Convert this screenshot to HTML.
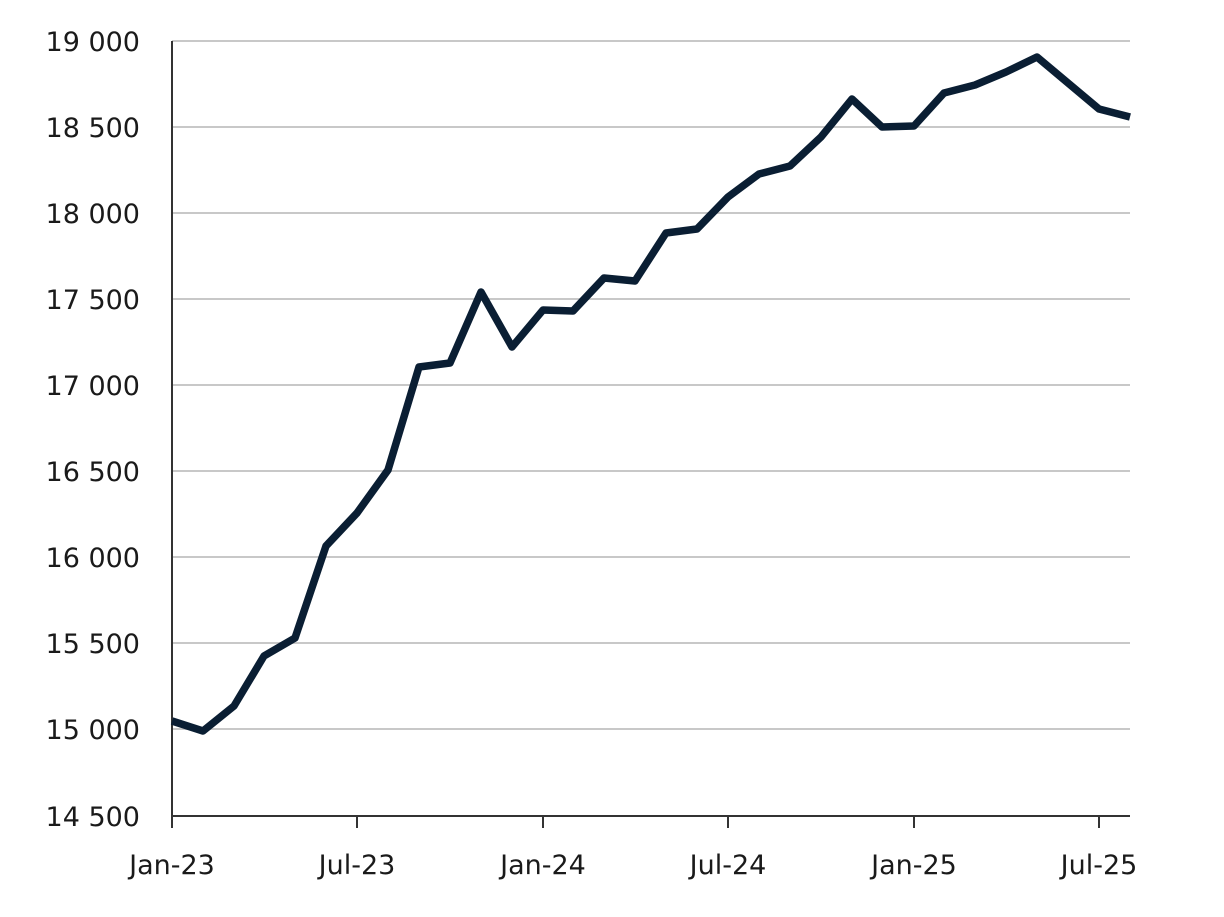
<!DOCTYPE html>
<html><head><meta charset="utf-8"><style>
html,body{margin:0;padding:0;background:#fff;}
text{font-family:"DejaVu Sans","Liberation Sans",sans-serif;font-size:27px;fill:#1a1a1a;}
</style></head><body>
<svg width="1224" height="912" xmlns="http://www.w3.org/2000/svg">
<g stroke="#c8c8c8" stroke-width="2">
<line x1="172" x2="1130" y1="41" y2="41"/>
<line x1="172" x2="1130" y1="127" y2="127"/>
<line x1="172" x2="1130" y1="213" y2="213"/>
<line x1="172" x2="1130" y1="299" y2="299"/>
<line x1="172" x2="1130" y1="385" y2="385"/>
<line x1="172" x2="1130" y1="471" y2="471"/>
<line x1="172" x2="1130" y1="557" y2="557"/>
<line x1="172" x2="1130" y1="643" y2="643"/>
<line x1="172" x2="1130" y1="729" y2="729"/>
</g>
<g stroke="#333" stroke-width="2">
<line x1="172" x2="172" y1="41" y2="816"/>
<line x1="172" x2="1130" y1="816" y2="816"/>
<line x1="172" x2="172" y1="816" y2="828"/>
<line x1="357" x2="357" y1="816" y2="828"/>
<line x1="543" x2="543" y1="816" y2="828"/>
<line x1="728" x2="728" y1="816" y2="828"/>
<line x1="914" x2="914" y1="816" y2="828"/>
<line x1="1099" x2="1099" y1="816" y2="828"/>
</g>
<g text-anchor="end">
<text x="140" y="51">19 000</text>
<text x="140" y="137">18 500</text>
<text x="140" y="223">18 000</text>
<text x="140" y="309">17 500</text>
<text x="140" y="395">17 000</text>
<text x="140" y="481">16 500</text>
<text x="140" y="567">16 000</text>
<text x="140" y="653">15 500</text>
<text x="140" y="739">15 000</text>
<text x="140" y="826">14 500</text>
</g>
<g text-anchor="middle">
<text x="172" y="874">Jan-23</text>
<text x="357" y="874">Jul-23</text>
<text x="543" y="874">Jan-24</text>
<text x="728" y="874">Jul-24</text>
<text x="914" y="874">Jan-25</text>
<text x="1099" y="874">Jul-25</text>
</g>
<polyline fill="none" stroke="#0a1e33" stroke-width="7.5" stroke-linejoin="round" points="172,721 203,731 234,706 264,656 295,638 326,546 357,513 388,470 419,367 450,363 481,292 512,347 543,310 573,311 604,278 635,281 666,233 697,229 728,197 759,174 790,166 821,137 852,99 882,127 914,126 944,93 975,85 1006,72 1037,57 1068,83 1099,109 1130,117"/>
</svg>
</body></html>
